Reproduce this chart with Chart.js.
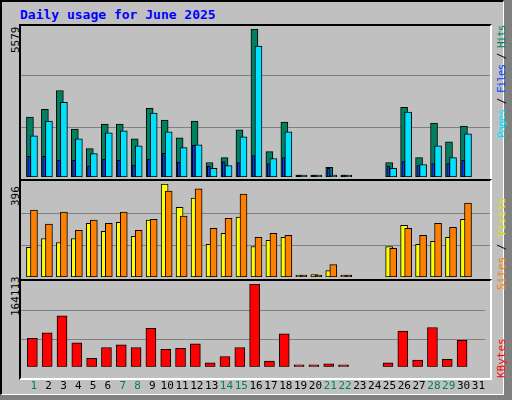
<!DOCTYPE html>
<html>
<head>
<meta charset="utf-8">
<script src="https://cdn.jsdelivr.net/npm/chart.js@4/dist/chart.umd.min.js"></script>
<style>
  body { margin: 0; width: 512px; height: 400px; background: #808080; position: relative; overflow: hidden; }
  #win { position: absolute; left: 0; top: 0; width: 504px; height: 395px; background: #c0c0c0; border-top: 2px solid #000; border-left: 2px solid #000; border-right: 1px solid #fff; border-bottom: 1px solid #fff; box-sizing: border-box; }
  .frame { position: absolute; box-sizing: border-box; border-top: 2px solid #000; border-left: 2px solid #000; border-right: 2px solid #fff; border-bottom: 2px solid #fff; }
  .cv { position: absolute; }
  .title { position: absolute; left: 20px; top: 7px; font: bold 13px "DejaVu Sans Mono", monospace; color: #0000ff; }
  .vlab { position: absolute; font: 11px "DejaVu Sans Mono", monospace; transform-origin: left top; transform: rotate(-90deg); white-space: nowrap; }
</style>
</head>
<body>
<div id="win"></div>
<div class="title">Daily usage for June 2025</div>

<div class="frame" style="left:19px;top:24px;width:473px;height:157px"></div>
<div class="frame" style="left:19px;top:179px;width:473px;height:102px"></div>
<div class="frame" style="left:19px;top:279px;width:473px;height:101px"></div>

<div class="vlab" style="left:9px;top:53px;color:#000">5579</div>
<div class="vlab" style="left:9px;top:206px;color:#000">396</div>
<div class="vlab" style="left:9px;top:316px;color:#000">164113</div>

<div class="vlab" style="left:495px;top:138px;letter-spacing:-1px"><span style="color:#00e0ff">Pages</span> / <span style="color:#0040ff">Files</span> / <span style="color:#008060">Hits</span></div>
<div class="vlab" style="left:495px;top:290px"><span style="color:#ff8000">Sites</span> / <span style="color:#e0e000">Visits</span></div>
<div class="vlab" style="left:495px;top:378px;color:#ff0000">KBytes</div>

<canvas id="c1" class="cv" style="left:21px;top:29px;width:469px;height:148px"></canvas>
<canvas id="c2" class="cv" style="left:21px;top:184px;width:469px;height:93px"></canvas>
<canvas id="c3" class="cv" style="left:21px;top:284px;width:469px;height:114px"></canvas>

<script>
// data, one value per day (null = no data)
const days = Array.from({ length: 31 }, (_, i) => i + 1);
const weekendDays = [1, 7, 8, 14, 15, 21, 22, 28, 29];
const hits   = [2257, 2555, 3262, 1811, 1067, 1998, 1998, 1440, 2593, 2146, 1477, 2109, 547, 733, 1774, 5579, 956, 2072, 0, 0, 361, 0, null, null, 547, 2630, 733, 2035, 1328, 1923, null];
const pages  = [1550, 2109, 2816, 1440, 882, 1663, 1737, 1179, 2407, 1700, 1105, 1216, 324, 435, 1514, 4936, 696, 1700, 0, 0, 63, 0, null, null, 324, 2444, 472, 1179, 733, 1626, null];
const files  = [781, 781, 632, 632, 409, 670, 632, 446, 670, 893, 558, 1200, 398, 584, 547, 807, 510, 733, 0, 0, 324, 0, null, null, 398, 584, 435, 510, 510, 633, null];
const visits = [126, 164, 147, 164, 229, 194, 233, 173, 242, 396, 297, 336, 139, 186, 255, 130, 156, 169, 0, 10, 27, 0, null, null, 130, 220, 139, 152, 169, 246, null];
const sites  = [285, 225, 276, 199, 242, 229, 276, 199, 246, 366, 259, 375, 207, 250, 353, 169, 186, 177, 0, 6, 53, 0, null, null, 122, 207, 177, 229, 212, 315, null];
const kbytes = [56300, 67100, 101200, 47300, 16800, 38300, 43700, 38300, 76100, 34700, 36500, 45500, 7800, 20400, 38300, 164113, 11400, 65300, 0, 0, 6000, 0, null, null, 7800, 70700, 13200, 77900, 15000, 52700, null];

const maxes = [5579, 396, 164113];

function pts(values, shift) {
    return values.map((v, i) => ({ x: days[i] + shift, y: v }));
}

function bars(label, values, shift, color, width, order) {
    return {
        label: label,
        data: pts(values, shift),
        backgroundColor: color,
        borderColor: '#000',
        borderWidth: 1,
        borderSkipped: false,
        barThickness: width,
        minBarLength: 2,
        grouped: false,
        order: order
    };
}

function makeChart(id, datasets, max, showDays) {
    return new Chart(document.getElementById(id), {
        type: 'bar',
        data: { datasets: datasets },
        options: {
            animation: false,
            responsive: false,
            events: [],
            layout: { padding: 0 },
            plugins: { legend: { display: false }, tooltip: { enabled: false } },
            scales: {
                x: {
                    type: 'linear',
                    offset: false,
                    min: 0.133,
                    max: 31.47,
                    display: showDays,
                    grid: { display: false },
                    border: { display: false },
                    afterBuildTicks: axis => { axis.ticks = days.map(d => ({ value: d })); },
                    ticks: {
                        autoSkip: false,
                        maxRotation: 0,
                        padding: 5,
                        font: { family: 'DejaVu Sans Mono', size: 11 },
                        color: ctx => weekendDays.includes(ctx.tick.value) ? '#008060' : '#000',
                        callback: v => String(v)
                    }
                },
                y: {
                    min: 0,
                    max: max,
                    afterBuildTicks: axis => { axis.ticks = [{ value: max * 0.335 }, { value: max * 0.685 }]; },
                    afterFit: axis => { axis.width = 0; },
                    ticks: { display: false },
                    border: { display: false },
                    grid: { color: '#808080', lineWidth: 1, drawTicks: false }
                }
            }
        }
    });
}

function sizeCanvas(id) {
    const c = document.getElementById(id);
    c.width = parseInt(c.style.width);
    c.height = parseInt(c.style.height);
}
['c1', 'c2', 'c3'].forEach(sizeCanvas);

makeChart('c1', [
    bars('Hits', hits, -0.27, '#008060', 7, 3),
    bars('Files', files, -0.32, '#0040ff', 3, 2),
    bars('Pages', pages, 0, '#00e0ff', 7, 1)
], maxes[0], false);

makeChart('c2', [
    bars('Visits', visits, -0.27, '#ffff00', 7, 2),
    bars('Sites', sites, 0, '#ff8000', 7, 1)
], maxes[1], false);

makeChart('c3', [
    bars('KBytes', kbytes, -0.1, '#ff0000', 10, 1)
], maxes[2], true);
</script>
</body>
</html>
